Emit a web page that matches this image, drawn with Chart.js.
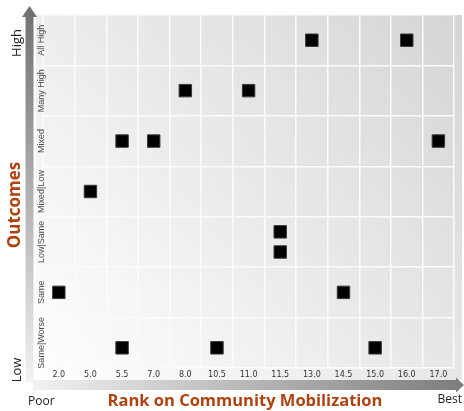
<!DOCTYPE html>
<html>
<head>
<meta charset="utf-8">
<script src="https://cdn.jsdelivr.net/npm/chart.js@4.4.1/dist/chart.umd.min.js"></script>
<style>
  html, body { margin: 0; padding: 0; background: #fff; }
  #wrap { width: 464px; height: 411px; }
</style>
</head>
<body>
<div id="wrap"><canvas id="rankChart" width="464" height="411"></canvas></div>
<script>
// x categories: community mobilization rank, poor -> best
const rankLabels = ['2.0', '5.0', '5.5', '7.0', '8.0', '10.5', '11.0', '11.5', '13.0', '14.5', '15.0', '16.0', '17.0'];
// y categories, low -> high (index = value on the y scale)
const outcomeLabels = ['Same|Worse', 'Same', 'Low|Same', 'Mixed|Low', 'Mixed', 'Many High', 'All High'];

// one entry per community
const pointRanks    = ['2.0', '5.0', '5.5', '5.5', '7.0', '8.0', '10.5', '11.0', '11.5', '11.5', '13.0', '14.5', '15.0', '16.0', '17.0'];
const pointOutcomes = [1, 3, 4, -0.1, 4, 5, -0.1, 5, 2.2, 1.8, 6, 1, -0.1, 6, 4];

const titleColor = '#b0420f';

// gray panel behind the grid, arrows and the outer texts
const decorPlugin = {
    id: 'decor',
    beforeDraw(chart) {
        const ctx = chart.ctx;
        ctx.save();
        const g = ctx.createLinearGradient(36, 380, 462, 15);
        g.addColorStop(0, '#ffffff');
        g.addColorStop(1, '#d5d5d5');
        ctx.fillStyle = g;
        ctx.fillRect(36, 15, 426, 365);
        ctx.restore();
    },
    afterDraw(chart) {
        const ctx = chart.ctx;
        const yScale = chart.scales.y;
        ctx.save();

        // vertical arrow
        let g = ctx.createLinearGradient(0, 7, 0, 382);
        g.addColorStop(0, '#6f6f6f');
        g.addColorStop(1, '#f2f2f2');
        ctx.fillStyle = g;
        ctx.beginPath();
        ctx.moveTo(29.5, 6);
        ctx.lineTo(37, 17);
        ctx.lineTo(33.5, 17);
        ctx.lineTo(33.5, 382);
        ctx.lineTo(25.5, 382);
        ctx.lineTo(25.5, 17);
        ctx.lineTo(22, 17);
        ctx.closePath();
        ctx.fill();

        // horizontal arrow
        g = ctx.createLinearGradient(33, 0, 464, 0);
        g.addColorStop(0, '#f2f2f2');
        g.addColorStop(1, '#7c7c7c');
        ctx.fillStyle = g;
        ctx.beginPath();
        ctx.moveTo(33, 380);
        ctx.lineTo(456, 380);
        ctx.lineTo(456, 377.5);
        ctx.lineTo(464, 385);
        ctx.lineTo(456, 392.5);
        ctx.lineTo(456, 390);
        ctx.lineTo(33, 390);
        ctx.closePath();
        ctx.fill();

        // outcome labels, rotated, on the y ticks
        ctx.fillStyle = '#4a4a4a';
        ctx.font = '9px "Liberation Sans", Arial, sans-serif';
        ctx.textAlign = 'center';
        ctx.textBaseline = 'middle';
        outcomeLabels.forEach((lbl, i) => {
            ctx.save();
            ctx.translate(42, yScale.getPixelForValue(i));
            ctx.rotate(-Math.PI / 2);
            ctx.fillText(lbl, 0, 0);
            ctx.restore();
        });

        // High / Outcomes / Low
        const vText = (txt, x, y, font, color) => {
            ctx.save();
            ctx.translate(x, y);
            ctx.rotate(-Math.PI / 2);
            ctx.font = font;
            ctx.fillStyle = color;
            ctx.fillText(txt, 0, 0);
            ctx.restore();
        };
        vText('High', 17, 43, '13px "Open Sans", sans-serif', '#222');
        vText('Outcomes', 15, 205, 'bold 17px "Open Sans", sans-serif', titleColor);
        vText('Low', 17, 370, '13px "Open Sans", sans-serif', '#222');

        // Poor / title / Best
        ctx.font = '12px "Open Sans", sans-serif';
        ctx.fillStyle = '#222';
        ctx.textAlign = 'left';
        ctx.fillText('Poor', 28, 402);
        ctx.textAlign = 'right';
        ctx.fillText('Best', 462, 400);
        ctx.textAlign = 'center';
        ctx.font = 'bold 16.5px "Open Sans", sans-serif';
        ctx.fillStyle = titleColor;
        ctx.fillText('Rank on Community Mobilization', 245, 401);

        ctx.restore();
    }
};

window.onload = function() {
    const points = pointRanks.map((r, i) => ({ x: r, y: pointOutcomes[i] }));

    new Chart(document.getElementById('rankChart'), {
        type: 'scatter',
        data: {
            datasets: [{
                data: points,
                pointStyle: 'rect',
                pointRadius: 8.8,
                pointHoverRadius: 8.8,
                backgroundColor: '#000',
                borderColor: '#3a3a3a',
                borderWidth: 1
            }]
        },
        options: {
            responsive: false,
            animation: false,
            layout: { padding: { left: 0, right: 6, top: 15, bottom: 0 } },
            plugins: {
                legend: { display: false },
                tooltip: { enabled: false }
            },
            scales: {
                x: {
                    type: 'category',
                    labels: rankLabels,
                    offset: true,
                    grid: { offset: true, color: '#fbfbfb', lineWidth: 1.5, drawTicks: false },
                    border: { display: false },
                    ticks: {
                        padding: 2,
                        color: '#333',
                        font: { family: '"DejaVu Sans", sans-serif', size: 8 },
                        maxRotation: 0,
                        autoSkip: false
                    },
                    afterFit(scale) { scale.height = 43; }
                },
                y: {
                    type: 'linear',
                    min: -0.5,
                    max: 6.5,
                    ticks: { display: false, stepSize: 0.5 },
                    grid: {
                        drawTicks: false,
                        lineWidth: 1.5,
                        color: (c) => (c.tick && Math.abs(c.tick.value % 1) === 0.5) ? '#fbfbfb' : 'rgba(0,0,0,0)'
                    },
                    border: { display: false },
                    afterFit(scale) { scale.width = 43; }
                }
            }
        },
        plugins: [decorPlugin]
    });
};
</script>
</body>
</html>
